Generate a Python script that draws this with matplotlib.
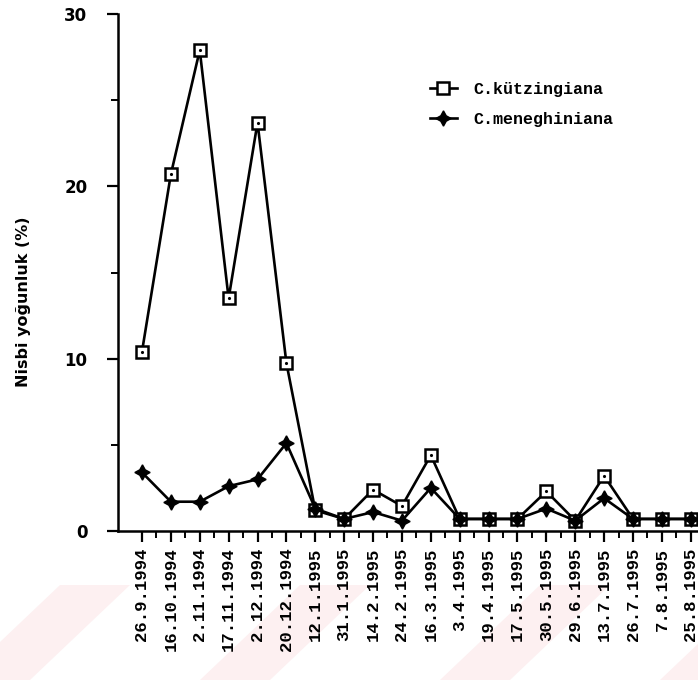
import matplotlib.pyplot as plt
from matplotlib.patches import Polygon
from matplotlib.ticker import MultipleLocator

# sampling dates (x categories)
dates = ['26.9.1994', '16.10.1994', '2.11.1994', '17.11.1994', '2.12.1994',
         '20.12.1994', '12.1.1995', '31.1.1995', '14.2.1995', '24.2.1995',
         '16.3.1995', '3.4.1995', '19.4.1995', '17.5.1995', '30.5.1995',
         '29.6.1995', '13.7.1995', '26.7.1995', '7.8.1995', '25.8.1995']

# relative abundance (%)
kutzingiana = [10.4, 20.7, 27.9, 13.5, 23.7, 9.75, 1.2, 0.7, 2.4, 1.45,
               4.4, 0.7, 0.7, 0.7, 2.3, 0.6, 3.2, 0.7, 0.7, 0.7]
meneghiniana = [3.4, 1.7, 1.7, 2.6, 3.0, 5.1, 1.3, 0.7, 1.1, 0.6,
                2.5, 0.7, 0.7, 0.7, 1.3, 0.6, 1.9, 0.7, 0.7, 0.7]

W, H = 698, 680
fig = plt.figure(figsize=(W / 100, H / 100), dpi=100)

# faint pink watermark bands behind the bottom of the scan
pink = '#fdf0f1'
for x0 in [-40, 200, 440, 660]:
    pts = [(x0, 680), (x0 + 70, 680), (x0 + 170, 585), (x0 + 100, 585)]
    fig.patches.append(Polygon([(px / W, 1 - py / H) for px, py in pts],
                               closed=True, transform=fig.transFigure,
                               facecolor=pink, edgecolor='none', zorder=-5))

ax = fig.add_axes([118 / W, 1 - 531 / H, (W - 118) / W, (531 - 14) / H])
ax.set_zorder(2)
ax.patch.set_alpha(0)

x = list(range(len(dates)))

ax.plot(x, kutzingiana, color='black', linewidth=1.9, marker='s',
        markersize=9, markerfacecolor='white', markeredgecolor='black',
        markeredgewidth=1.8, label='C.kützingiana', clip_on=False, zorder=3)
ax.plot(x, kutzingiana, linestyle='none', marker='.', markersize=2.5,
        color='black', zorder=4, clip_on=False)
ax.plot(x, meneghiniana, color='black', linewidth=1.9, marker=(4, 1, 0),
        markersize=11, markerfacecolor='black', markeredgecolor='black',
        label='C.meneghiniana', clip_on=False, zorder=3)

ax.set_xlim(-0.83, 19.25)
ax.set_ylim(0, 30)

ax.spines['top'].set_visible(False)
ax.spines['right'].set_visible(False)
ax.spines['left'].set_linewidth(1.8)
ax.spines['bottom'].set_linewidth(1.8)

ax.set_yticks([0, 10, 20, 30])
ax.yaxis.set_minor_locator(MultipleLocator(5))
ax.set_xticks(x)
ax.set_xticks([i + 0.5 for i in x[:-1]], minor=True)
ax.set_xticklabels(dates, rotation=90, fontsize=12.5, fontweight='bold',
                   family='Liberation Mono', va='top')
for lab in ax.get_yticklabels():
    lab.set_fontweight('bold')
    lab.set_fontsize(12)

ax.tick_params(axis='both', which='major', direction='out', length=8,
               width=1.6, color='black')
ax.tick_params(axis='both', which='minor', direction='out', length=5,
               width=1.4, color='black')
ax.tick_params(axis='x', which='major', pad=4)
ax.tick_params(axis='y', which='major', pad=14)

ax.set_ylabel('Nisbi yoğunluk (%)', fontsize=11.5, fontweight='semibold')
ax.yaxis.set_label_coords(-0.15, 0.443)

fig.legend(loc='upper left', bbox_to_anchor=(430 / W, 1 - 82 / H),
           frameon=False, handlelength=1.6, handletextpad=1.0,
           labelspacing=0.9, borderaxespad=0, borderpad=0,
           prop={'family': 'Liberation Mono', 'weight': 'bold', 'size': 12})

fig.savefig('out.png', dpi=100)
